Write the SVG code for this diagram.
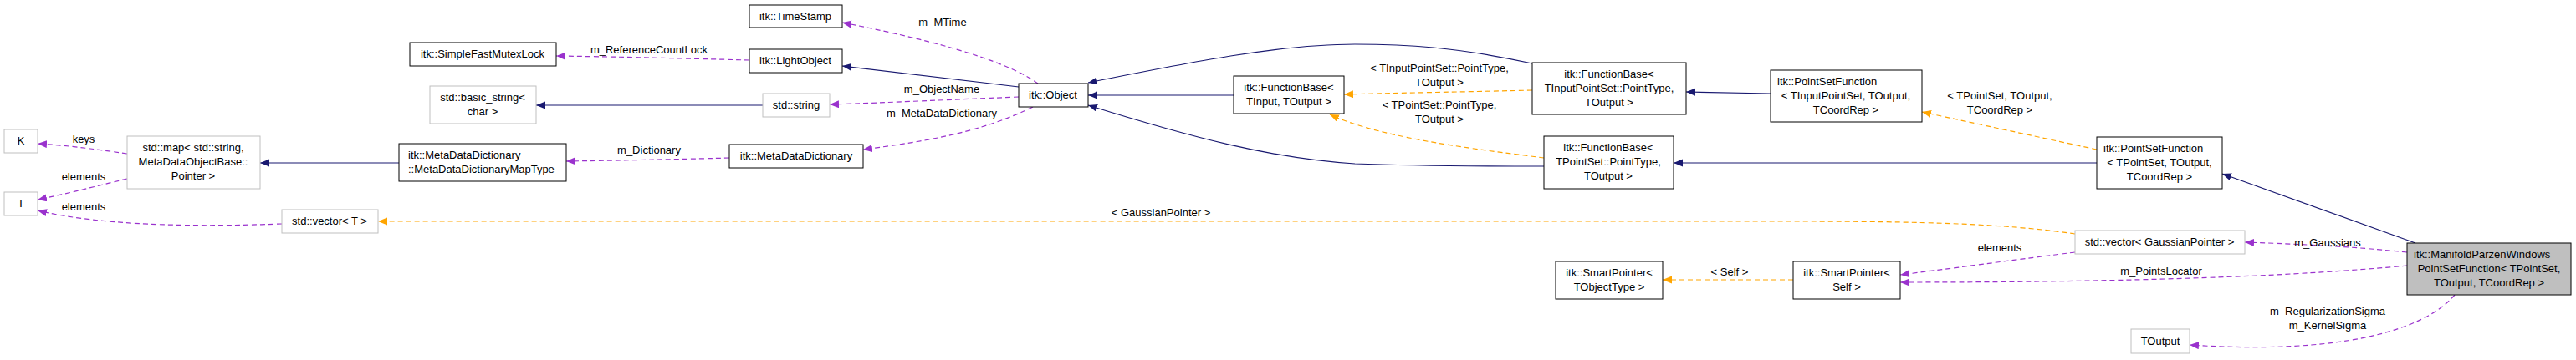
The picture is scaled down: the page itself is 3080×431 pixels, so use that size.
<svg xmlns="http://www.w3.org/2000/svg" width="3080" height="431" viewBox="0 0 3080 431">
<style>
text{font-family:"Liberation Sans",Arial,sans-serif;font-size:13px;fill:#000;text-anchor:middle}
.n rect{fill:#fff;stroke:#000;stroke-width:1}
.g rect{fill:#fff;stroke:#bfbfbf;stroke-width:1}
.s rect{fill:#bfbfbf;stroke:#000;stroke-width:1}
.l{text-anchor:start}
.e{fill:none;stroke-width:1.2}
.b{stroke:#191970}
.p{stroke:#9a32cd;stroke-dasharray:6,4}
.o{stroke:#ffa500;stroke-dasharray:6,4}
</style>
<defs>
<marker id="ab" markerUnits="userSpaceOnUse" markerWidth="12" markerHeight="10" refX="11" refY="4.5" orient="auto"><path d="M0,0 L11,4.5 L0,9 z" fill="#191970"/></marker>
<marker id="ap" markerUnits="userSpaceOnUse" markerWidth="12" markerHeight="10" refX="11" refY="4.5" orient="auto"><path d="M0,0 L11,4.5 L0,9 z" fill="#9a32cd"/></marker>
<marker id="ao" markerUnits="userSpaceOnUse" markerWidth="12" markerHeight="10" refX="11" refY="4.5" orient="auto"><path d="M0,0 L11,4.5 L0,9 z" fill="#ffa500"/></marker>
</defs>
<rect width="3080" height="431" fill="#fff"/>
<g id="connectors">
<path class="e b" marker-end="url(#ab)" d="M1218,104 L1007,79"/>
<path class="e p" marker-end="url(#ap)" d="M896,72 C820,70 740,68 665,67"/>
<path class="e p" marker-end="url(#ap)" d="M1241,100 C1200,70 1100,45 1007,27"/>
<path class="e b" marker-end="url(#ab)" d="M912,126 L641,126"/>
<path class="e p" marker-end="url(#ap)" d="M1218,116 C1140,119 1060,123 992,125"/>
<path class="e p" marker-end="url(#ap)" d="M1235,128 C1170,160 1100,170 1032,179"/>
<path class="e p" marker-end="url(#ap)" d="M872,189 C800,191 740,192 677,193"/>
<path class="e b" marker-end="url(#ab)" d="M477,195 L311,195"/>
<path class="e p" marker-end="url(#ap)" d="M152,184 C110,178 80,174 45,172"/>
<path class="e p" marker-end="url(#ap)" d="M152,214 C110,224 80,232 45,239"/>
<path class="e p" marker-end="url(#ap)" d="M337,268 C230,272 120,270 45,252"/>
<path class="e o" marker-end="url(#ao)" d="M2481,280 C2400,268 2300,265 2150,265 L452,265"/>
<path class="e b" marker-end="url(#ab)" d="M1475,114 L1301,114"/>
<path class="e b" marker-end="url(#ab)" d="M1832,76 C1740,56 1680,53 1620,53 C1530,53 1420,75 1301,99"/>
<path class="e b" marker-end="url(#ab)" d="M1846,199 C1760,199 1700,199 1620,196 C1520,190 1420,163 1301,126"/>
<path class="e o" marker-end="url(#ao)" d="M1832,108 C1750,110 1680,111 1607,113"/>
<path class="e o" marker-end="url(#ao)" d="M1846,189 C1760,178 1650,165 1590,137"/>
<path class="e b" marker-end="url(#ab)" d="M2117,112 L2016,110"/>
<path class="e b" marker-end="url(#ab)" d="M2507,195 L2001,195"/>
<path class="e o" marker-end="url(#ao)" d="M2507,179 L2298,134"/>
<path class="e b" marker-end="url(#ab)" d="M2888,291 L2657,208"/>
<path class="e p" marker-end="url(#ap)" d="M2878,302 C2800,294 2740,292 2684,290"/>
<path class="e p" marker-end="url(#ap)" d="M2481,302 C2400,312 2330,322 2272,329"/>
<path class="e p" marker-end="url(#ap)" d="M2878,318 C2700,335 2450,338 2272,338"/>
<path class="e o" marker-end="url(#ao)" d="M2144,335 L1988,335"/>
<path class="e p" marker-end="url(#ap)" d="M2935,353 C2900,395 2800,425 2618,413"/>
<text x="776" y="64">m_ReferenceCountLock</text>
<text x="1127" y="31">m_MTime</text>
<text x="1126" y="111">m_ObjectName</text>
<text x="1126" y="140">m_MetaDataDictionary</text>
<text x="776" y="184">m_Dictionary</text>
<text x="100" y="171">keys</text>
<text x="100" y="216">elements</text>
<text x="100" y="252">elements</text>
<text x="1388" y="259">&lt; GaussianPointer &gt;</text>
<text x="1721" y="86">&lt; TInputPointSet::PointType,</text>
<text x="1721" y="103">TOutput &gt;</text>
<text x="1721" y="130">&lt; TPointSet::PointType,</text>
<text x="1721" y="147">TOutput &gt;</text>
<text x="2391" y="119">&lt; TPointSet, TOutput,</text>
<text x="2391" y="136">TCoordRep &gt;</text>
<text x="2391" y="301">elements</text>
<text x="2783" y="295">m_Gaussians</text>
<text x="2584" y="329">m_PointsLocator</text>
<text x="2068" y="330">&lt; Self &gt;</text>
<text x="2783" y="377">m_RegularizationSigma</text>
<text x="2783" y="394">m_KernelSigma</text>
</g>
<g id="SimpleFastMutexLock" class="n"><rect x="490" y="51" width="175" height="28"/><text x="577" y="69">itk::SimpleFastMutexLock</text></g>
<g id="basic_string" class="g"><rect x="514" y="103" width="127" height="45"/><text x="577" y="121">std::basic_string&lt;</text><text x="577" y="138">char &gt;</text></g>
<g id="K" class="g"><rect x="5" y="155" width="40" height="28"/><text x="25" y="173">K</text></g>
<g id="map" class="g"><rect x="152" y="163" width="159" height="63"/><text x="231" y="181">std::map&lt; std::string,</text><text x="231" y="198">MetaDataObjectBase::</text><text x="231" y="215">Pointer &gt;</text></g>
<g id="MapType" class="n"><rect x="477" y="172" width="200" height="45"/><text x="488" y="190" class="l">itk::MetaDataDictionary</text><text x="488" y="207" class="l">::MetaDataDictionaryMapType</text></g>
<g id="T" class="g"><rect x="5" y="230" width="40" height="28"/><text x="25" y="248">T</text></g>
<g id="vectorT" class="g"><rect x="337" y="251" width="115" height="28"/><text x="394" y="269">std::vector&lt; T &gt;</text></g>
<g id="TimeStamp" class="n"><rect x="896" y="6" width="111" height="27"/><text x="951" y="24">itk::TimeStamp</text></g>
<g id="LightObject" class="n"><rect x="896" y="59" width="111" height="28"/><text x="951" y="77">itk::LightObject</text></g>
<g id="string" class="g"><rect x="912" y="112" width="80" height="28"/><text x="952" y="130">std::string</text></g>
<g id="Object" class="n"><rect x="1218" y="100" width="83" height="28"/><text x="1259" y="118">itk::Object</text></g>
<g id="MetaDataDictionary" class="n"><rect x="872" y="173" width="160" height="28"/><text x="952" y="191">itk::MetaDataDictionary</text></g>
<g id="FB_TInput" class="n"><rect x="1475" y="91" width="132" height="45"/><text x="1541" y="109">itk::FunctionBase&lt;</text><text x="1541" y="126">TInput, TOutput &gt;</text></g>
<g id="FB_TInputPointSet" class="n"><rect x="1832" y="75" width="184" height="62"/><text x="1924" y="93">itk::FunctionBase&lt;</text><text x="1924" y="110">TInputPointSet::PointType,</text><text x="1924" y="127">TOutput &gt;</text></g>
<g id="FB_TPointSet" class="n"><rect x="1846" y="163" width="155" height="63"/><text x="1923" y="181">itk::FunctionBase&lt;</text><text x="1923" y="198">TPointSet::PointType,</text><text x="1923" y="215">TOutput &gt;</text></g>
<g id="SP_TObjectType" class="n"><rect x="1860" y="313" width="128" height="45"/><text x="1924" y="331">itk::SmartPointer&lt;</text><text x="1924" y="348">TObjectType &gt;</text></g>
<g id="PSF_TInputPointSet" class="n"><rect x="2117" y="84" width="181" height="62"/><text x="2125" y="102" class="l">itk::PointSetFunction</text><text x="2207" y="119">&lt; TInputPointSet, TOutput,</text><text x="2207" y="136">TCoordRep &gt;</text></g>
<g id="PSF_TPointSet" class="n"><rect x="2507" y="164" width="150" height="62"/><text x="2515" y="182" class="l">itk::PointSetFunction</text><text x="2582" y="199">&lt; TPointSet, TOutput,</text><text x="2582" y="216">TCoordRep &gt;</text></g>
<g id="vectorGaussian" class="g"><rect x="2481" y="276" width="203" height="28"/><text x="2582" y="294">std::vector&lt; GaussianPointer &gt;</text></g>
<g id="SP_Self" class="n"><rect x="2144" y="313" width="128" height="45"/><text x="2208" y="331">itk::SmartPointer&lt;</text><text x="2208" y="348">Self &gt;</text></g>
<g id="Manifold" class="s"><rect x="2878" y="291" width="196" height="62"/><text x="2886" y="309" class="l">itk::ManifoldParzenWindows</text><text x="2976" y="326">PointSetFunction&lt; TPointSet,</text><text x="2976" y="343">TOutput, TCoordRep &gt;</text></g>
<g id="TOutput" class="g"><rect x="2548" y="394" width="70" height="29"/><text x="2583" y="413">TOutput</text></g>
</svg>
